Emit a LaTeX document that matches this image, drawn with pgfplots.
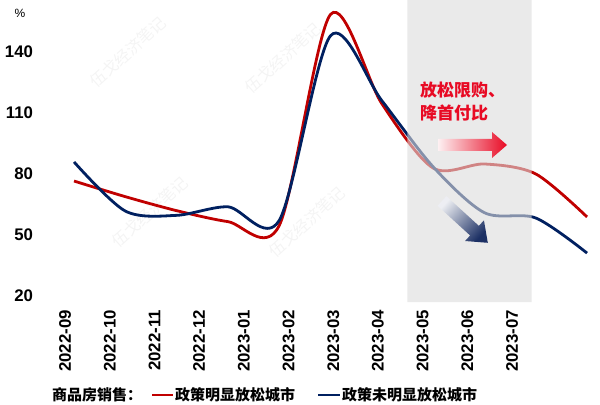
\documentclass[border=0pt]{standalone}
\usepackage{fontspec}
\setmainfont{Liberation Sans}
\newfontfamily\cjk{Noto Sans CJK SC}
\usepackage{pgfplots}
\pgfplotsset{compat=1.18}
\definecolor{lred}{RGB}{192,0,0}
\definecolor{lblue}{RGB}{0,32,96}
\definecolor{ared}{RGB}{232,10,36}
\definecolor{anavy}{RGB}{28,48,100}
\definecolor{band}{RGB}{220,220,220}
\definecolor{wm}{RGB}{244,244,244}
\begin{document}
\begin{tikzpicture}
\useasboundingbox (0,0) rectangle (600bp,405bp);
% watermark (very faint)
\foreach \x/\y in {128/52, 283/58, 150/212, 307/222}{
  \node[rotate=42, text=wm, font=\cjk\fontsize{16bp}{16bp}\selectfont] at (\x bp, 405bp-\y bp) {伍戈经济笔记};
}
\begin{axis}[
  at={(40.7bp,103bp)}, anchor=south west,
  scale only axis, width=556.6bp, height=302bp,
  xmin=-0.65, xmax=10.2, ymin=16.8, ymax=165.6,
  axis line style={draw=none},
  major tick length=0pt, tick style={draw=none},
  xtick={-0.175,0.696,1.568,2.439,3.310,4.182,5.053,5.924,6.796,7.667,8.538},
  xticklabels={2022-09,2022-10,2022-11,2022-12,2023-01,2023-02,2023-03,2023-04,2023-05,2023-06,2023-07},
  ytick={20,50,80,110,140},
  /pgf/number format/assume math mode=true,
  x tick label style={rotate=90, anchor=east, inner xsep=8bp, inner ysep=0pt, font=\fontsize{16.8bp}{18bp}\selectfont\bfseries},
  y tick label style={anchor=east, inner xsep=7.5bp, font=\fontsize{16.8bp}{18bp}\selectfont\bfseries},
  clip=false,
]
\addplot[lred, line width=2.8bp, smooth] coordinates {
 (0,76.4) (1,68.7) (2,61.8) (3,56.4) (4,54.5) (5,158.5) (6,114.5) (7,82.8) (8,84.8) (9,79.9) (10,58.7)};
\addplot[lblue, line width=2.8bp, smooth] coordinates {
 (0,85.8) (1,61.6) (2,59.5) (3,63.7) (4,57.0) (5,148.0) (6,116.0) (7,83.4) (8,60.8) (9,58.2) (10,40.9)};
\addplot[fill=band, fill opacity=0.6, draw=none, forget plot] coordinates {
 (6.497,16.8) (8.922,16.8) (8.922,165.6) (6.497,165.6) (6.497,16.8)};
\end{axis}
% percent sign
\node[font=\fontsize{12bp}{12bp}\selectfont] at (20bp,392bp) {\%};
% annotation text
\node[anchor=north west, align=left, text=ared, inner sep=0pt,
      font=\cjk\bfseries\fontsize{17bp}{23bp}\selectfont] at (420bp,323bp) {放松限购、\\降首付比};
% red arrow
\shade[left color=ared!6!white, right color=ared]
  (438bp,254bp) -- (492bp,254bp) -- (492bp,247bp) -- (507bp,260bp) -- (492bp,273bp) -- (492bp,266bp) -- (438bp,266bp) -- cycle;
% navy arrow
\shade[top color=anavy!8!white, bottom color=anavy, shading angle=47.6]
  (446.38bp,208.80bp) -- (478.87bp,179.13bp) -- (483.93bp,184.67bp) -- (487.79bp,162.19bp)
  -- (465.05bp,163.99bp) -- (470.11bp,169.53bp) -- (437.62bp,199.20bp) -- cycle;
% legend
\node[anchor=west, inner sep=0pt, font=\cjk\bfseries\fontsize{15bp}{16bp}\selectfont] at (52bp,10bp) {商品房销售：};
\draw[lred, line width=2.8bp] (152bp,10bp) -- (173bp,10bp);
\node[anchor=west, inner sep=0pt, font=\cjk\bfseries\fontsize{15bp}{16bp}\selectfont] at (175bp,10bp) {政策明显放松城市};
\draw[lblue, line width=2.8bp] (318bp,10bp) -- (340bp,10bp);
\node[anchor=west, inner sep=0pt, font=\cjk\bfseries\fontsize{15bp}{16bp}\selectfont] at (342bp,10bp) {政策未明显放松城市};
\end{tikzpicture}
\end{document}
